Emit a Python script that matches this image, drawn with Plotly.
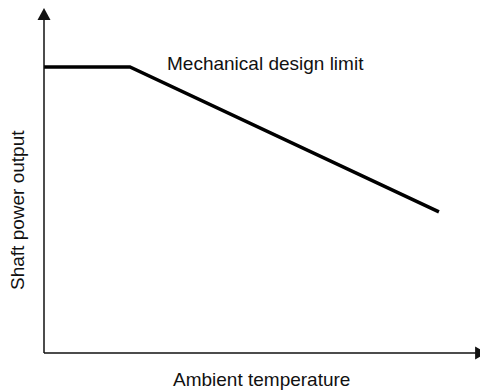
import plotly.graph_objects as go

# Data (arbitrary units): ambient temperature vs shaft power output
temperature = [0.0, 1.98, 9.10]
shaft_power = [8.29, 8.29, 4.09]

x_title = "Ambient temperature"
y_title = "Shaft power output"
limit_label = "Mechanical design limit"

FONT = "Liberation Sans, Arial, Helvetica, sans-serif"

# pixel scale of the plot: 43.4 px per x unit, 34.5 px per y unit
PX_X = 43.4
PX_Y = 34.5
W, H = 480, 390
ORIGIN_PX = (44, 353)          # where (0, 0) sits inside the figure
x_range = [-ORIGIN_PX[0] / PX_X, (W - ORIGIN_PX[0]) / PX_X]
y_range = [-(H - ORIGIN_PX[1]) / PX_Y, ORIGIN_PX[1] / PX_Y]

x_tip = 10.21
y_tip = 10.0
head_len, head_half = 12.0, 6.5   # pixels

fig = go.Figure()
fig.add_trace(go.Scatter(
    x=temperature, y=shaft_power, mode="lines",
    line=dict(color="black", width=3.5),
    hoverinfo="skip", showlegend=False,
))

axis_style = dict(showgrid=False, zeroline=False, showline=False,
                  showticklabels=False, ticks="", fixedrange=True)

axis_col = "#111"
shapes = [
    dict(type="line", xref="x", yref="y", x0=0, y0=0, x1=x_tip - head_len / PX_X + 0.05, y1=0,
         line=dict(color=axis_col, width=1.5)),
    dict(type="line", xref="x", yref="y", x0=0, y0=0, x1=0, y1=y_tip - head_len / PX_Y + 0.05,
         line=dict(color=axis_col, width=1.5)),
    dict(type="path", xref="x", yref="y",
         path=f"M {x_tip},0 L {x_tip - head_len / PX_X},{head_half / PX_Y} "
              f"L {x_tip - head_len / PX_X},{-head_half / PX_Y} Z",
         fillcolor=axis_col, line=dict(width=0)),
    dict(type="path", xref="x", yref="y",
         path=f"M 0,{y_tip} L {-head_half / PX_X},{y_tip - head_len / PX_Y} "
              f"L {head_half / PX_X},{y_tip - head_len / PX_Y} Z",
         fillcolor=axis_col, line=dict(width=0)),
]

fig.update_layout(
    width=W, height=H,
    margin=dict(l=0, r=0, t=0, b=0),
    paper_bgcolor="white", plot_bgcolor="white",
    xaxis=dict(range=x_range, **axis_style),
    yaxis=dict(range=y_range, **axis_style),
    font=dict(family=FONT, size=19, color="#111"),
    hovermode=False,
    shapes=shapes,
    annotations=[
        dict(x=2.788, y=8.38, xref="x", yref="y", text=limit_label, showarrow=False,
             xanchor="left", yanchor="middle"),
        dict(x=5.02, y=-0.78, xref="x", yref="y", text=x_title, showarrow=False,
             xanchor="center", yanchor="middle"),
        dict(x=-0.622, y=4.145, xref="x", yref="y", text=y_title, showarrow=False,
             textangle=-90, xanchor="center", yanchor="middle"),
    ],
)

fig.write_html(
    "out.html",
    config={"displayModeBar": False, "staticPlot": True},
    post_script="document.body.style.margin='0';"
                "document.documentElement.style.overflow='hidden';",
)
